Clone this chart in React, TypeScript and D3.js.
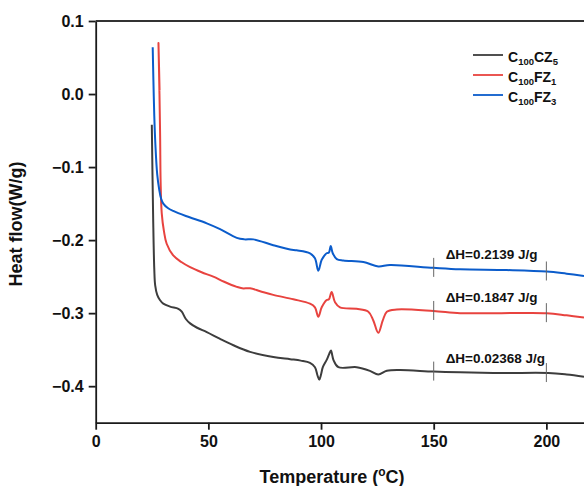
import React, { useEffect, useRef } from 'react'
import * as d3 from 'd3'

// DSC curves, [temperature °C, heat flow W/g]
const cz5 = [
  [24.9, -0.042], [25.5, -0.17], [26.0, -0.24], [26.4, -0.262], [27.3, -0.275], [28.5, -0.282],
  [30, -0.287], [33, -0.291], [36.7, -0.294], [38.2, -0.298], [40, -0.308], [41.9, -0.314],
  [45, -0.32], [49.3, -0.326], [55, -0.335], [61.1, -0.344], [68.5, -0.353], [78.8, -0.36],
  [86.3, -0.363], [91, -0.365], [95.1, -0.368], [97.3, -0.374], [98.4, -0.385], [99.2, -0.391],
  [100.0, -0.384], [100.8, -0.374], [102.5, -0.364], [103.6, -0.356], [104.4, -0.351],
  [105.0, -0.358], [105.5, -0.364], [107.7, -0.374], [115.8, -0.374], [121.7, -0.379],
  [125.4, -0.384], [129.2, -0.379], [135, -0.378], [149.9, -0.38], [161.7, -0.381],
  [180, -0.382], [200.9, -0.382], [209, -0.384], [216.7, -0.387],
]
const fz1 = [
  [28.35, 0.005], [27.85, 0.07], [28.3, 0.0], [28.6, -0.06], [28.8, -0.118], [29.3, -0.163],
  [30.3, -0.188], [31.5, -0.205], [34.4, -0.221], [38, -0.23], [41.9, -0.237], [47, -0.244],
  [52.2, -0.25], [57, -0.257], [62.6, -0.264], [65, -0.266], [68.5, -0.266], [73, -0.27],
  [78.8, -0.275], [87.7, -0.281], [95.1, -0.287], [97.3, -0.292], [98.8, -0.305],
  [100.3, -0.292], [102.5, -0.282], [103.5, -0.281], [104.7, -0.271], [106.2, -0.285],
  [108.4, -0.292], [115.8, -0.294], [121, -0.298], [123.2, -0.31], [125.4, -0.327],
  [127.4, -0.31], [129.2, -0.298], [133.6, -0.295], [149.9, -0.297], [161.7, -0.3],
  [180, -0.3], [200.2, -0.3], [209, -0.303], [216.7, -0.306],
]
const fz3 = [
  [25.3, 0.064], [25.6, 0.02], [26.0, -0.03], [26.5, -0.07], [27.3, -0.11], [28.2, -0.131],
  [29.0, -0.143], [30, -0.15], [32, -0.156], [34.4, -0.16], [40, -0.167], [49.3, -0.177],
  [55.2, -0.185], [62.6, -0.197], [66, -0.199], [70, -0.199], [78.8, -0.207], [86.3, -0.213],
  [89.2, -0.214], [95.1, -0.218], [97.3, -0.225], [98.8, -0.242], [100.3, -0.227],
  [102.5, -0.218], [103.5, -0.217], [104.3, -0.208], [105.2, -0.218], [107, -0.226],
  [109.9, -0.228], [118.8, -0.23], [125.4, -0.236], [130.6, -0.234], [149.9, -0.238],
  [161.7, -0.24], [182.4, -0.241], [200.2, -0.243], [209, -0.246], [216.7, -0.249],
]

const seriesNames = ['CZ', 'FZ', 'FZ']
const seriesSubs = ['5', '1', '3']
const seriesColors = ['#3d3d3d', '#e8433f', '#0b5ccb']
const enthalpyLabels = ['ΔH=0.02368 J/g', 'ΔH=0.1847 J/g', 'ΔH=0.2139 J/g']
const integrationLimits = [150, 200]
const xTicks = [0, 50, 100, 150, 200]
const yTicks = [-0.4, -0.3, -0.2, -0.1, 0.0, 0.1]

const FONT = '"Liberation Sans", Arial, sans-serif'

function DscChart() {
  const ref = useRef<SVGSVGElement>(null)

  useEffect(() => {
    const width = 584
    const height = 486
    const svg = d3.select(ref.current)
    svg.selectAll('*').remove()

    const x = d3.scaleLinear().domain([0, 216.7]).range([95.7, 584])
    const y = d3.scaleLinear().domain([-0.45, 0.1]).range([422.7, 21])

    // axes
    const yAxis = svg.append('g')
      .attr('transform', `translate(${x(0)},0)`)
      .call(d3.axisLeft(y).tickValues(yTicks).tickFormat(d3.format('.1f')).tickSize(7).tickSizeOuter(0).tickPadding(5))
    const xAxis = svg.append('g')
      .attr('transform', `translate(0,${y(-0.45)})`)
      .call(d3.axisBottom(x).tickValues(xTicks).tickFormat(d3.format('d')).tickSize(7).tickSizeOuter(0).tickPadding(6))
    for (const ax of [yAxis, xAxis]) {
      ax.selectAll('path, line').attr('stroke', '#1a1a1a').attr('stroke-width', 1.8)
      ax.selectAll('text')
        .attr('fill', '#111')
        .style('font-family', FONT)
        .style('font-size', '16px')
        .style('font-weight', 'bold')
    }
    // top frame line
    svg.append('line')
      .attr('x1', x(0)).attr('x2', width)
      .attr('y1', y(0.1)).attr('y2', y(0.1))
      .attr('stroke', '#333').attr('stroke-width', 1.8)

    // axis titles
    svg.append('text')
      .attr('transform', `translate(22,${224}) rotate(-90)`)
      .attr('text-anchor', 'middle')
      .style('font-family', FONT).style('font-size', '18px').style('font-weight', 'bold')
      .attr('fill', '#111')
      .text('Heat flow(W/g)')
    const xt = svg.append('text')
      .attr('x', 332).attr('y', 483)
      .attr('text-anchor', 'middle')
      .style('font-family', FONT).style('font-size', '18px').style('font-weight', 'bold')
      .attr('fill', '#111')
    xt.append('tspan').text('Temperature (')
    xt.append('tspan').attr('dy', -7).style('font-size', '12px').text('o')
    xt.append('tspan').attr('dy', 7).text('C)')

    // curves
    const line = d3.line<number[]>()
      .x(d => x(d[0]))
      .y(d => y(d[1]))
      .curve(d3.curveCatmullRom.alpha(0.5))
    const allSeries = [cz5, fz1, fz3]
    allSeries.forEach((s, i) => {
      svg.append('path')
        .attr('d', line(s))
        .attr('fill', 'none')
        .attr('stroke', seriesColors[i])
        .attr('stroke-width', 2)
        .attr('stroke-linejoin', 'round')
    })

    // integration limits + enthalpy labels
    allSeries.forEach((s, i) => {
      const interp = (t: number) => {
        const j = s.findIndex(p => p[0] >= t && p[0] > 40)
        const a = s[j - 1], b = s[j]
        return a[1] + (b[1] - a[1]) * (t - a[0]) / (b[0] - a[0])
      }
      integrationLimits.forEach(t => {
        const yy = y(interp(t))
        svg.append('line')
          .attr('x1', x(t)).attr('x2', x(t))
          .attr('y1', yy - 10).attr('y2', yy + 9)
          .attr('stroke', '#666').attr('stroke-width', 1)
      })
      svg.append('text')
        .attr('x', x(155.3))
        .attr('y', y(interp(150)) - 9)
        .style('font-family', FONT).style('font-size', '13.5px').style('font-weight', 'bold')
        .attr('fill', '#111')
        .text(enthalpyLabels[i])
    })

    // legend, drawn top to bottom
    const legend = svg.append('g').attr('transform', 'translate(473,55)')
    seriesNames.forEach((n, i) => {
      const g = legend.append('g').attr('transform', `translate(0,${i * 20})`)
      g.append('line').attr('x1', 0).attr('x2', 30).attr('stroke', seriesColors[i]).attr('stroke-width', 1.8)
      const t = g.append('text').attr('x', 35).attr('y', 6.5)
        .style('font-family', FONT).style('font-size', '14px').style('font-weight', 'bold')
        .attr('fill', '#111')
      t.append('tspan').text('C')
      t.append('tspan').attr('dy', 3).style('font-size', '9.5px').text('100')
      t.append('tspan').attr('dy', -3).text(n)
      t.append('tspan').attr('dy', 3).style('font-size', '9.5px').text(seriesSubs[i])
    })

    svg.attr('width', width).attr('height', height)
  }, [])

  return <svg ref={ref} width={584} height={486} style={{ position: 'absolute', left: 0, top: 0, background: '#fff' }} />
}

export default function App() {
  return <DscChart />
}
